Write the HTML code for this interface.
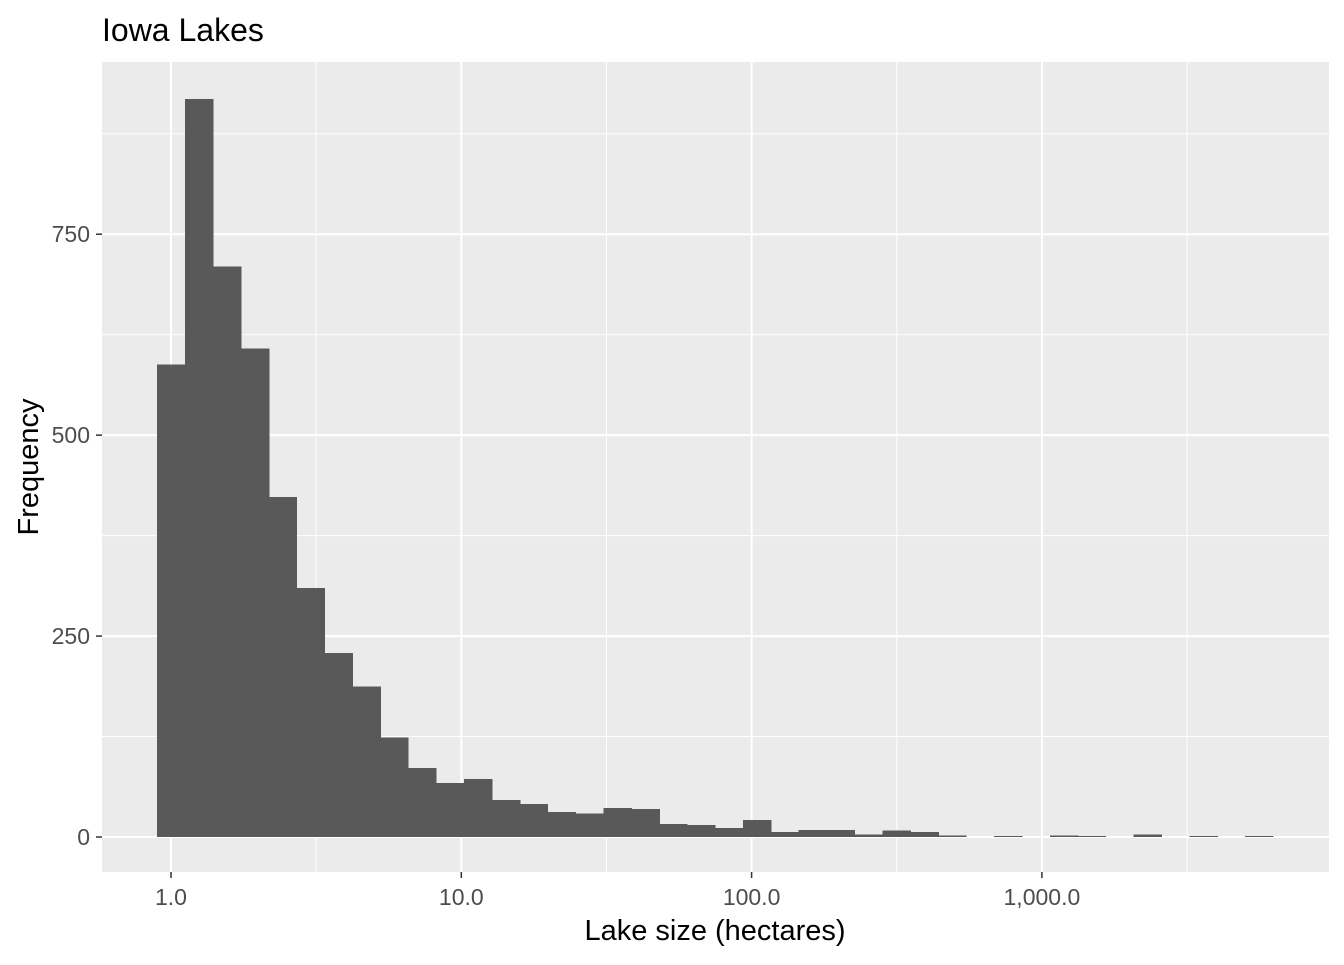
<!DOCTYPE html>
<html><head><meta charset="utf-8"><style>
body{margin:0;background:#fff;}
svg text{font-family:"Liberation Sans",Arial,sans-serif;}
</style></head><body>
<svg id="chart" width="1344" height="960" xmlns="http://www.w3.org/2000/svg">
<rect width="1344" height="960" fill="#fff"/>
<text x="102" y="41" font-size="32" fill="#000">Iowa Lakes</text>
<rect x="102" y="62" width="1227" height="810" fill="#ebebeb"/>
<g id="grid"></g><g id="bars"></g><g id="axes"></g>
<text x="715" y="940" font-size="29" text-anchor="middle" fill="#000">Lake size (hectares)</text>
<text transform="translate(38,467) rotate(-90)" font-size="29" text-anchor="middle" fill="#000">Frequency</text>
</svg>
<script>
const counts=[588,918,710,608,423,310,229,187,124,86,67,72,46,41,31,29,36,35,16,15,11,21,6,9,9,3,8,6,2,0,1,0,2,1,0,3,0,1,0,1];
const binStartLog=-0.048;
const binWidthLog=0.0961;
const xTicks=[1,10,100,1000];
const xTickLabels=["1.0","10.0","100.0","1,000.0"];
const yTicks=[0,250,500,750];
const NS="http://www.w3.org/2000/svg";
const xs=l=>171+(l)*290.3;
const ys=v=>837-v*0.8037;
function mk(t,a,p){const e=document.createElementNS(NS,t);for(const k in a)e.setAttribute(k,a[k]);p.appendChild(e);return e;}
const grid=document.getElementById('grid'),bars=document.getElementById('bars'),axes=document.getElementById('axes');
for(let i=0;i<yTicks.length;i++){
 const v=yTicks[i];
 let g=mk('line',{x1:102,x2:1329,y1:ys(v),y2:ys(v),stroke:'#fff','stroke-width':2},grid);
 
 
 let m=mk('line',{x1:102,x2:1329,y1:ys(v+125),y2:ys(v+125),stroke:'#fff','stroke-width':1},grid);
 
 
 let tk=mk('line',{x1:96,x2:102,y1:ys(v),y2:ys(v),stroke:'#333','stroke-width':1.5},axes);
 
 
 let t=mk('text',{x:90,y:ys(v)+8,'font-size':23,'text-anchor':'end',fill:'#4d4d4d'},axes);
 t.textContent=String(v);
 
 
}
for(let i=0;i<xTicks.length;i++){
 const l=Math.log10(xTicks[i]);
 let g=mk('line',{x1:xs(l),x2:xs(l),y1:62,y2:872,stroke:'#fff','stroke-width':2},grid);
 
 
 let m=mk('line',{x1:xs(l+0.5),x2:xs(l+0.5),y1:62,y2:872,stroke:'#fff','stroke-width':1},grid);
 
 
 let tk=mk('line',{x1:xs(l),x2:xs(l),y1:872,y2:878,stroke:'#333','stroke-width':1.5},axes);
 
 
 let t=mk('text',{x:xs(l),y:905,'font-size':23,'text-anchor':'middle',fill:'#4d4d4d'},axes);
 t.textContent=xTickLabels[i];
 
 
}
for(let i=0;i<counts.length;i++){
 if(counts[i]<=0)continue;
 const x0=xs(binStartLog+i*binWidthLog),x1=xs(binStartLog+(i+1)*binWidthLog);
 let r=mk('rect',{x:x0,y:ys(counts[i]),width:x1-x0+0.6,height:ys(0)-ys(counts[i]),fill:'#595959','shape-rendering':'crispEdges'},bars);
 
 
}
</script>
</body></html>
